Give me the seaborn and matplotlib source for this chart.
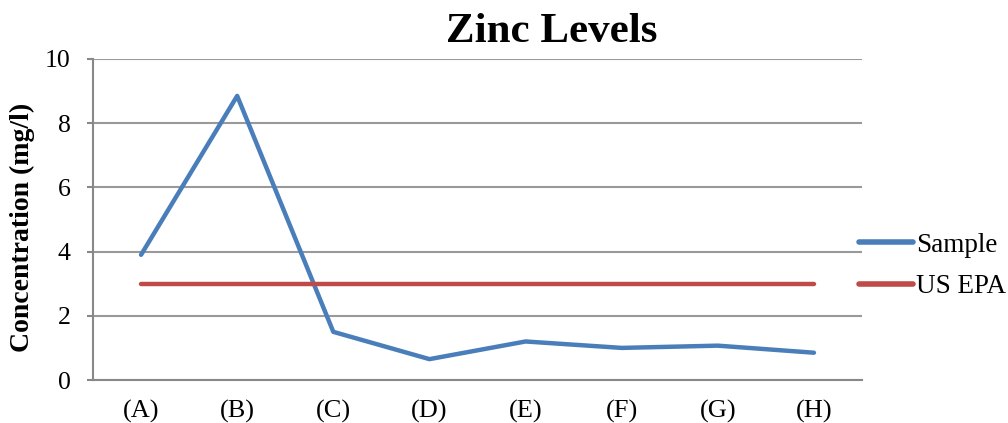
import matplotlib
matplotlib.use("Agg")
import matplotlib.pyplot as plt
import seaborn as sns
import pandas as pd

categories = ["(A)", "(B)", "(C)", "(D)", "(E)", "(F)", "(G)", "(H)"]
sample = [3.9, 8.85, 1.5, 0.65, 1.2, 1.0, 1.07, 0.85]
us_epa = [3.0, 3.0, 3.0, 3.0, 3.0, 3.0, 3.0, 3.0]
yticks = [0, 2, 4, 6, 8, 10]

sns.set_theme(style="white")
plt.rcParams["font.family"] = ["Liberation Serif", "DejaVu Serif"]
plt.rcParams["text.color"] = "black"
plt.rcParams["xtick.color"] = "black"
plt.rcParams["ytick.color"] = "black"
plt.rcParams["axes.labelcolor"] = "black"

df = pd.DataFrame({
    "pos": list(range(len(categories))) * 2,
    "value": sample + us_epa,
    "series": ["Sample"] * len(categories) + ["US EPA"] * len(categories),
})

fig = plt.figure(figsize=(10.08, 4.23), dpi=100)
ax = fig.add_axes([93/1008, 1 - 380/423, (862-93)/1008, (380-59)/423])

sns.lineplot(data=df, x="pos", y="value", hue="series",
             palette={"Sample": "#4A7EBB", "US EPA": "#BE4B48"},
             linewidth=3.2, ax=ax, legend=True, solid_capstyle="round")

ax.set_xlim(-0.5, len(categories) - 0.5)
ax.set_ylim(0, 10)
ax.set_yticks(yticks)
ax.set_yticklabels([str(t) for t in yticks], fontsize=18.5)
ax.set_xticks(range(len(categories)))
ax.set_xticklabels(categories, fontsize=19)
ax.tick_params(axis="x", length=0, pad=14)
ax.tick_params(axis="y", length=4, width=1.5, labelcolor="black", color="#888888",
               pad=12, direction="out", left=True)
ax.yaxis.grid(True, color="#999999", linewidth=1.5)
ax.set_axisbelow(True)
for s in ["top", "right"]:
    ax.spines[s].set_visible(False)
for s in ["left", "bottom"]:
    ax.spines[s].set_color("#888888")
    ax.spines[s].set_linewidth(1.5)

ax.set_xlabel("")
ax.set_ylabel("Concentration (mg/l)", fontsize=20, fontweight="bold")
ax.yaxis.set_label_coords(-0.0755, 0.477)

leg = ax.legend(loc="center left", bbox_to_anchor=(859/1008, 1 - 266/423),
                bbox_transform=fig.transFigure, frameon=False, borderpad=0,
                borderaxespad=0, fontsize=19.5, handlelength=2.0,
                handletextpad=0.12, labelspacing=0.62)
for line in leg.get_lines():
    line.set_linewidth(4)
    line.set_solid_capstyle("round")

fig.text(552/1008, 1 - 32/423, "Zinc Levels", ha="center", va="center",
         fontsize=31, fontweight="bold")

fig.savefig("out.png", dpi=100)
